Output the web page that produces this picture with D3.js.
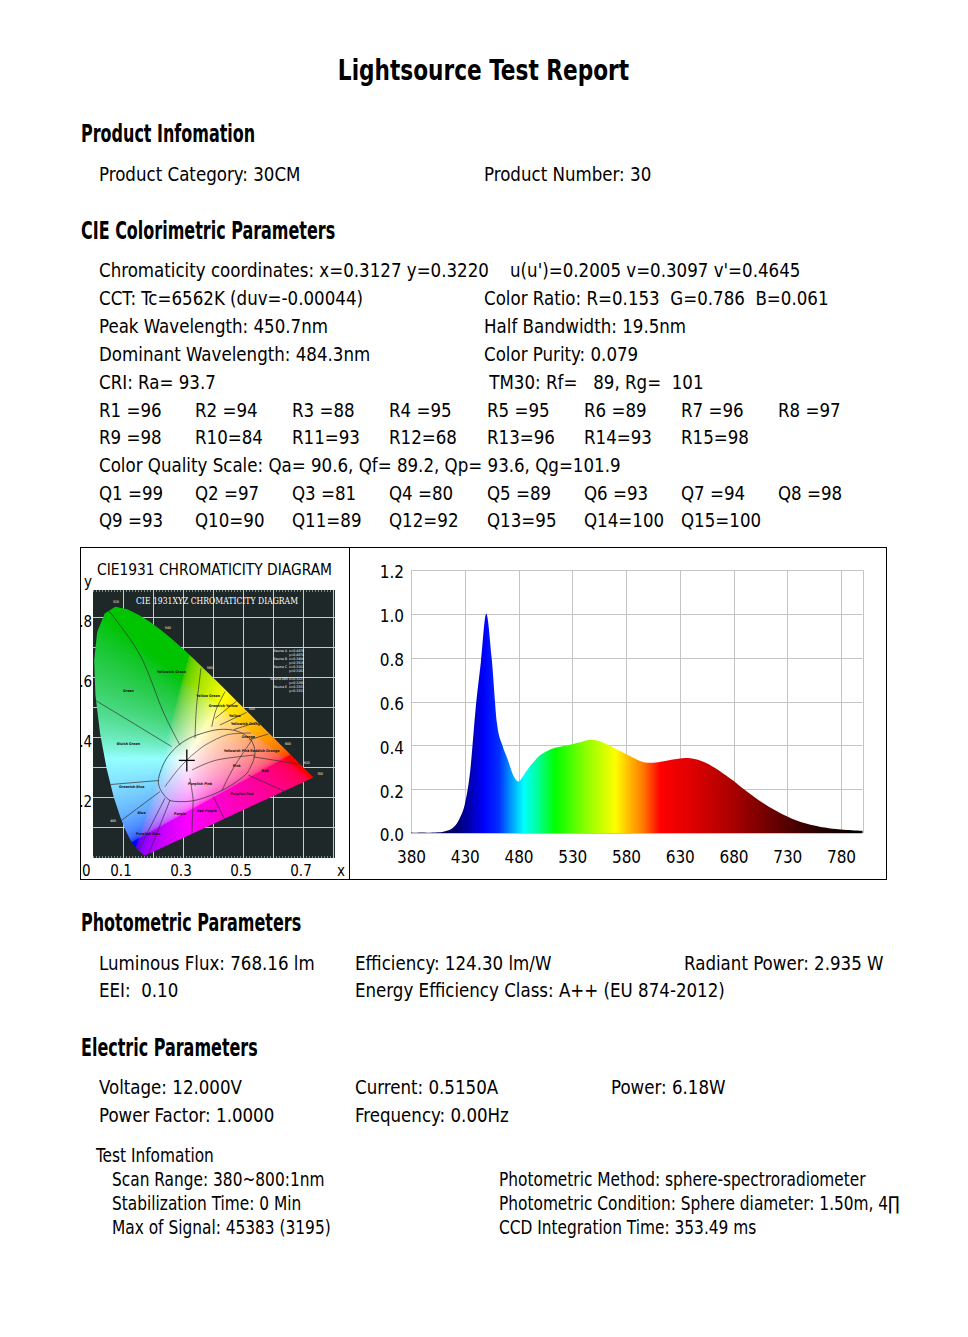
<!DOCTYPE html>
<html lang="en">
<head>
<meta charset="UTF-8">
<title>Lightsource Test Report</title>
<style>
  body { margin: 0; background: #fff; }
  svg { display: block; }
  text { font-family: "DejaVu Sans Condensed", "DejaVu Sans", sans-serif; fill: #000; white-space: pre; }
  .title { font-size: 29px; font-weight: bold; }
  .hdr { font-size: 24px; font-weight: bold; }
  .body { font-size: 19px; }
  .axis text { font-size: 17px; font-family: "DejaVu Sans Condensed", "DejaVu Sans", sans-serif; }
  .cie-lbl { font-size: 15px; }
  .tiny { font-size: 3.6px; font-weight: bold; fill: #111; }
  .tiny-w { font-size: 3.4px; fill: #fff; }
  .img-title { font-family: "DejaVu Serif", "Liberation Serif", serif; font-size: 8.5px; fill: #fff; }
</style>
</head>
<body>
<script src="https://cdn.jsdelivr.net/npm/d3@7"></script>
<script>
// ---------- report text ----------
const reportTitle = "Lightsource Test Report";
const headers = ["Product Infomation", "CIE Colorimetric Parameters", "Photometric Parameters", "Electric Parameters"];
const productInfo = ["Product Category: 30CM", "Product Number: 30"];
const cieFirstRow = ["Chromaticity coordinates: x=0.3127 y=0.3220", "u(u')=0.2005 v=0.3097 v'=0.4645"];
const cieRows = [
  ["CCT: Tc=6562K (duv=-0.00044)", "Color Ratio: R=0.153  G=0.786  B=0.061"],
  ["Peak Wavelength: 450.7nm", "Half Bandwidth: 19.5nm"],
  ["Dominant Wavelength: 484.3nm", "Color Purity: 0.079"],
  ["CRI: Ra= 93.7", " TM30: Rf=   89, Rg=  101"]
];
const rValues = [96, 94, 88, 95, 95, 89, 96, 97, 98, 84, 93, 68, 96, 93, 98];
const cqsLine = "Color Quality Scale: Qa= 90.6, Qf= 89.2, Qp= 93.6, Qg=101.9";
const qValues = [99, 97, 81, 80, 89, 93, 94, 98, 93, 90, 89, 92, 95, 100, 100];
const photoRows = [
  ["Luminous Flux: 768.16 lm", "Efficiency: 124.30 lm/W", "Radiant Power: 2.935 W"],
  ["EEI:  0.10", "Energy Efficiency Class: A++ (EU 874-2012)"]
];
const electricRows = [
  ["Voltage: 12.000V", "Current: 0.5150A", "Power: 6.18W"],
  ["Power Factor: 1.0000", "Frequency: 0.00Hz"]
];
const testTitle = "Test Infomation";
const testLeft = ["Scan Range: 380~800:1nm", "Stabilization Time: 0 Min", "Max of Signal: 45383 (3195)"];
const testRight = ["Photometric Method: sphere-spectroradiometer", "Photometric Condition: Sphere diameter: 1.50m, 4\u220F", "CCD Integration Time: 353.49 ms"];

// ---------- spectrum (relative power vs nm) ----------
const spectrum = [
  [380, 0.002], [385, 0.001], [390, 0.002], [395, 0.001], [400, 0.002], [405, 0.003], [410, 0.006],
  [415, 0.012], [420, 0.028], [425, 0.064], [430, 0.13], [435, 0.28], [440, 0.56], [445, 0.78],
  [450, 1.0], [455, 0.80], [460, 0.50], [465, 0.40], [470, 0.335], [475, 0.265], [480, 0.235],
  [485, 0.265], [490, 0.30], [495, 0.33], [500, 0.355], [505, 0.37], [510, 0.382], [515, 0.39],
  [520, 0.395], [525, 0.40], [530, 0.405], [535, 0.412], [540, 0.418], [545, 0.424], [550, 0.424],
  [555, 0.42], [560, 0.41], [565, 0.398], [570, 0.386], [575, 0.373], [580, 0.36], [585, 0.348],
  [590, 0.335], [595, 0.325], [600, 0.321], [605, 0.321], [610, 0.323], [615, 0.327], [620, 0.332],
  [625, 0.336], [630, 0.34], [635, 0.342], [640, 0.341], [645, 0.336], [650, 0.328], [655, 0.318],
  [660, 0.305], [665, 0.29], [670, 0.273], [675, 0.256], [680, 0.238], [685, 0.218], [690, 0.198],
  [695, 0.18], [700, 0.162], [705, 0.145], [710, 0.129], [715, 0.114], [720, 0.1], [725, 0.087],
  [730, 0.075], [735, 0.064], [740, 0.055], [745, 0.047], [750, 0.04], [755, 0.034], [760, 0.029],
  [765, 0.025], [770, 0.021], [775, 0.018], [780, 0.016], [785, 0.014], [790, 0.013], [795, 0.011],
  [800, 0.01]
];
const spectrumColors = [
  [380, "#12003c"], [420, "#00006a"], [435, "#0000b0"], [448, "#0000ff"], [462, "#0030ff"],
  [472, "#0090ff"], [485, "#00ffff"], [497, "#00ffa0"], [514, "#00ff00"], [540, "#80ff00"],
  [570, "#ffff00"], [582, "#ffc000"], [595, "#ff7f00"], [612, "#ff0000"], [640, "#e00000"],
  [680, "#a80000"], [720, "#640000"], [760, "#260000"], [800, "#000000"]
];
const specXTicks = [380, 430, 480, 530, 580, 630, 680, 730, 780];
const specYTicks = [0, 0.2, 0.4, 0.6, 0.8, 1.0, 1.2];

// ---------- CIE 1931 diagram ----------
const locus = [
  [0.1741, 0.0050], [0.1740, 0.0050], [0.1738, 0.0049], [0.1736, 0.0049], [0.1733, 0.0048],
  [0.1730, 0.0048], [0.1726, 0.0048], [0.1721, 0.0048], [0.1714, 0.0051], [0.1703, 0.0058],
  [0.1689, 0.0069], [0.1669, 0.0086], [0.1644, 0.0109], [0.1611, 0.0138], [0.1566, 0.0177],
  [0.1510, 0.0227], [0.1440, 0.0297], [0.1355, 0.0399], [0.1241, 0.0578], [0.1096, 0.0868],
  [0.0913, 0.1327], [0.0687, 0.2007], [0.0454, 0.2950], [0.0235, 0.4127], [0.0082, 0.5384],
  [0.0039, 0.6548], [0.0139, 0.7502], [0.0389, 0.8120], [0.0743, 0.8338], [0.1142, 0.8262],
  [0.1547, 0.8059], [0.1929, 0.7816], [0.2296, 0.7543], [0.2658, 0.7243], [0.3016, 0.6923],
  [0.3373, 0.6589], [0.3731, 0.6245], [0.4087, 0.5896], [0.4441, 0.5547], [0.4788, 0.5202],
  [0.5125, 0.4866], [0.5448, 0.4544], [0.5752, 0.4242], [0.6029, 0.3965], [0.6270, 0.3725],
  [0.6482, 0.3514], [0.6658, 0.3340], [0.6801, 0.3197], [0.6915, 0.3083], [0.7006, 0.2993],
  [0.7079, 0.2920], [0.7140, 0.2859], [0.7190, 0.2809], [0.7230, 0.2770], [0.7260, 0.2740],
  [0.7300, 0.2700], [0.7320, 0.2680], [0.7334, 0.2666], [0.7347, 0.2653]
];
const planckian = [[0.5267, 0.4133], [0.4476, 0.4074], [0.3805, 0.3768], [0.3451, 0.3516],
  [0.3135, 0.3237], [0.2807, 0.2884], [0.2531, 0.2523], [0.2399, 0.2342]];
const whiteRegion = [[0.218, 0.246], [0.235, 0.31], [0.268, 0.357], [0.31, 0.39], [0.357, 0.41],
  [0.42, 0.425], [0.479, 0.42], [0.525, 0.392], [0.54, 0.346], [0.525, 0.3], [0.501, 0.268],
  [0.43, 0.222], [0.346, 0.19], [0.28, 0.185], [0.246, 0.196]];
const regionLines = [
  [[0.051, 0.823], [0.157, 0.673], [0.234, 0.484], [0.29, 0.373]],
  [[0.007, 0.523], [0.134, 0.446], [0.262, 0.368]],
  [[0.36, 0.63], [0.345, 0.5], [0.34, 0.396]],
  [[0.44, 0.551], [0.41, 0.49], [0.396, 0.434]],
  [[0.479, 0.52], [0.407, 0.462]],
  [[0.512, 0.482], [0.423, 0.44]],
  [[0.548, 0.45], [0.47, 0.425]],
  [[0.584, 0.41], [0.52, 0.39]],
  [[0.534, 0.334], [0.701, 0.307]],
  [[0.518, 0.273], [0.64, 0.218]],
  [[0.401, 0.201], [0.44, 0.123]],
  [[0.334, 0.19], [0.329, 0.062]],
  [[0.257, 0.19], [0.184, 0.007]],
  [[0.24, 0.196], [0.146, 0.012]],
  [[0.223, 0.218], [0.096, 0.123]],
  [[0.04, 0.24], [0.218, 0.255]],
  [[0.323, 0.262], [0.33, 0.22], [0.334, 0.19]],
  [[0.33, 0.29], [0.412, 0.323], [0.54, 0.34]],
  [[0.43, 0.222], [0.47, 0.3], [0.53, 0.39]]
];
const regionNames = [
  ["Green", 0.118, 0.551], ["Yellowish Green", 0.262, 0.612], ["Yellow Green", 0.384, 0.534],
  ["Greenish Yellow", 0.434, 0.501], ["Yellow", 0.473, 0.468], ["Yellowish Orange", 0.512, 0.44],
  ["Orange", 0.518, 0.398], ["Reddish Orange", 0.573, 0.351], ["Red", 0.573, 0.284],
  ["Purplish Red", 0.496, 0.207], ["Red Purple", 0.379, 0.151], ["Purple", 0.29, 0.14],
  ["Purplish Blue", 0.184, 0.073], ["Blue", 0.162, 0.145], ["Greenish Blue", 0.129, 0.229],
  ["Bluish Green", 0.118, 0.373], ["Yellowish Pink", 0.479, 0.351], ["Pink", 0.479, 0.301],
  ["Purplish Pink", 0.357, 0.24]
];
const locusMarks = [["520", 0.077, 0.847], ["540", 0.25, 0.76], ["560", 0.39, 0.627], ["580", 0.53, 0.49],
  ["600", 0.65, 0.373], ["620", 0.713, 0.31], ["700", 0.757, 0.273], ["480", 0.067, 0.117]];
const illuminants = ["Source A  x=0.4476", "y=0.4074", "Source B  x=0.3484", "y=0.3516",
  "Source C  x=0.3101", "y=0.3162", "", "Source D65 x=0.3127", "y=0.3290", "Source E  x=0.3333", "y=0.3333"];
const testPoint = [0.3127, 0.3220];
const cieTicksY = [0.8, 0.6, 0.4, 0.2];
const cieTicksX = [0.1, 0.3, 0.5, 0.7];

// ---------- page ----------
const W = 968, H = 1337;
const svg = d3.select("body").append("svg").attr("width", W).attr("height", H);
const defs = svg.append("defs");

function put(g, str, x, y, cls, factor) {
  const t = g.append("text").attr("x", x).attr("y", y).attr("class", cls).text(str);
  if (factor) {
    t.attr("textLength", t.node().getComputedTextLength() * factor).attr("lengthAdjust", "spacingAndGlyphs");
  }
  return t;
}

const page = svg.append("g");
const BF = 0.975;  // body text fit
const HF = 0.74;   // header fit
put(page, reportTitle, 483.5, 80, "title", 0.83).attr("text-anchor", "middle");
[142, 239, 931, 1056].forEach((y, i) => put(page, headers[i], 81, y, "hdr", HF));

put(page, productInfo[0], 99, 181, "body", BF);
put(page, productInfo[1], 484, 181, "body", BF);

const rowY = [277, 305, 333, 361, 389, 417, 444, 472, 500, 527];
put(page, cieFirstRow[0], 99, rowY[0], "body", BF);
put(page, cieFirstRow[1], 510, rowY[0], "body", BF);
cieRows.forEach((r, i) => {
  put(page, r[0], 99, rowY[i + 1], "body", BF);
  put(page, r[1], 484, rowY[i + 1], "body", BF);
});
const gridCols = [99, 195, 292, 389, 487, 584, 681, 778];
const idxLabel = (p, n, v) => (n < 10 ? p + n + " =" : p + n + "=") + v;
rValues.forEach((v, i) => put(page, idxLabel("R", i + 1, v), gridCols[i % 8], rowY[5 + Math.floor(i / 8)], "body", BF));
put(page, cqsLine, 99, rowY[7], "body", BF);
qValues.forEach((v, i) => put(page, idxLabel("Q", i + 1, v), gridCols[i % 8], rowY[8 + Math.floor(i / 8)], "body", BF));

const photoCols = [99, 355, 684];
photoRows.forEach((r, i) => r.forEach((s, j) => put(page, s, photoCols[j], 970 + i * 27, "body", BF)));
const elecCols = [99, 355, 611];
electricRows.forEach((r, i) => r.forEach((s, j) => put(page, s, elecCols[j], 1094 + i * 28, "body", BF)));

put(page, testTitle, 96, 1162, "body", 0.9);
testLeft.forEach((s, i) => put(page, s, 112, 1186 + i * 24, "body", 0.9));
testRight.forEach((s, i) => put(page, s, 499, 1186 + i * 24, "body", 0.9));

// ---------- chart frame ----------
const frame = { x0: 80, x1: 886, y0: 547, y1: 879, split: 349 };
svg.append("rect").attr("x", frame.x0 + 0.5).attr("y", frame.y0 + 0.5)
  .attr("width", frame.x1 - frame.x0).attr("height", frame.y1 - frame.y0)
  .attr("fill", "none").attr("stroke", "#000");
svg.append("line").attr("x1", frame.split + 0.5).attr("x2", frame.split + 0.5)
  .attr("y1", frame.y0).attr("y2", frame.y1).attr("stroke", "#000");

// ---------- spectrum panel ----------
const sx = d3.scaleLinear().domain([380, 800]).range([411, 862.5]);
const sy = d3.scaleLinear().domain([0, 1.2]).range([833, 570]);
const sp = svg.append("g");
const grad = defs.append("linearGradient").attr("id", "specGrad")
  .attr("gradientUnits", "userSpaceOnUse").attr("x1", sx(380)).attr("x2", sx(800)).attr("y1", 0).attr("y2", 0);
grad.selectAll("stop").data(spectrumColors).join("stop")
  .attr("offset", d => (d[0] - 380) / 420).attr("stop-color", d => d[1]);

sp.append("g").selectAll("line").data(specXTicks.concat([800])).join("line")
  .attr("x1", d => Math.round(sx(d)) + 0.5).attr("x2", d => Math.round(sx(d)) + 0.5)
  .attr("y1", sy(1.2)).attr("y2", sy(0)).attr("stroke", "#c4c4c4");
sp.append("g").selectAll("line").data(specYTicks).join("line")
  .attr("x1", sx(380)).attr("x2", sx(800))
  .attr("y1", d => Math.round(sy(d)) + 0.5).attr("y2", d => Math.round(sy(d)) + 0.5).attr("stroke", "#c4c4c4");

const area = d3.area().x(d => sx(d[0])).y0(sy(0)).y1(d => sy(d[1])).curve(d3.curveMonotoneX);
sp.append("path").datum(spectrum).attr("d", area).attr("fill", "url(#specGrad)");

const ay = sp.append("g").attr("class", "axis").attr("transform", `translate(${sx(380)},2.5)`)
  .call(d3.axisLeft(sy).tickValues(specYTicks).tickFormat(d3.format(".1f")).tickSize(0).tickPadding(7));
const ax = sp.append("g").attr("class", "axis").attr("transform", `translate(0,${sy(0)})`)
  .call(d3.axisBottom(sx).tickValues(specXTicks).tickSize(0).tickPadding(18));
[ay, ax].forEach(a => { a.select(".domain").remove(); a.selectAll("text").style("fill", "#000"); });

// ---------- CIE panel ----------
const cx = d3.scaleLinear().domain([0, 1]).range([93, 393]);
const cy = d3.scaleLinear().domain([0, 1]).range([857, 557]);
const img = { x0: 93, x1: 335, y0: 590, y1: 858 };
const cie = svg.append("g");
defs.append("clipPath").attr("id", "imgClip").append("rect")
  .attr("x", img.x0).attr("y", img.y0).attr("width", img.x1 - img.x0).attr("height", img.y1 - img.y0);
const locusPath = d3.line().x(d => cx(d[0])).y(d => cy(d[1]))(locus) + "Z";
defs.append("clipPath").attr("id", "locusClip").append("path").attr("d", locusPath);

const cg = cie.append("g").attr("clip-path", "url(#imgClip)");
cg.append("rect").attr("x", img.x0).attr("y", img.y0).attr("width", img.x1 - img.x0)
  .attr("height", img.y1 - img.y0).attr("fill", "#1e2828");
const gridVals = [0.1, 0.2, 0.3, 0.4, 0.5, 0.6, 0.7, 0.8];
cg.append("g").selectAll("line").data(gridVals).join("line")
  .attr("x1", d => Math.round(cx(d)) + 0.5).attr("x2", d => Math.round(cx(d)) + 0.5)
  .attr("y1", img.y0).attr("y2", img.y1).attr("stroke", "#c3cbcb").attr("stroke-width", 1);
cg.append("g").selectAll("line").data(gridVals).join("line")
  .attr("y1", d => Math.round(cy(d)) + 0.5).attr("y2", d => Math.round(cy(d)) + 0.5)
  .attr("x1", img.x0).attr("x2", img.x1).attr("stroke", "#c3cbcb").attr("stroke-width", 1);
[img.y0 + 1, img.y1 - 1].forEach(y => cg.append("line").attr("x1", img.x0).attr("x2", img.x1)
  .attr("y1", y).attr("y2", y).attr("stroke", "#dfe5e5").attr("stroke-dasharray", "1,2"));

// chromaticity colour fill rendered into a canvas, then clipped to the spectral locus
const res = 2, cw = (img.x1 - img.x0) * res, ch = (img.y1 - img.y0) * res;
const canvas = document.createElement("canvas");
canvas.width = cw; canvas.height = ch;
const ctx = canvas.getContext("2d");
const id = ctx.createImageData(cw, ch);
const enc = c => 255 * (c <= 0.0031308 ? 12.92 * c : 1.055 * Math.pow(c, 1 / 2.4) - 0.055);
for (let j = 0; j < ch; j++) {
  const y = Math.max(cy.invert(img.y0 + (j + 0.5) / res), 0.002);
  for (let i = 0; i < cw; i++) {
    const x = cx.invert(img.x0 + (i + 0.5) / res);
    const X = x / y, Z = (1 - x - y) / y;
    let r = Math.max(3.2406 * X - 1.5372 - 0.4986 * Z, 0);
    let g = Math.max(-0.9689 * X + 1.8758 + 0.0415 * Z, 0);
    let b = Math.max(0.0557 * X - 0.2040 + 1.0570 * Z, 0);
    const m = Math.max(r, g, b) || 1;
    // lift toward white so the neutral centre spreads out, pull the green lobe away from cyan
    r = Math.pow(r / m, 0.6); g = Math.pow(g / m, 0.6); b = Math.pow(b / m, 0.6);
    b = Math.pow(b, 1 + 1.2 * Math.max(0, g - r));
    r = Math.max(r, 0.3 * Math.min(g, b));
    const gd = Math.max(0, g - Math.max(r, b));
    const f = 1 - 0.45 * gd;
    const k = (j * cw + i) * 4;
    id.data[k] = enc(r * f); id.data[k + 1] = enc(g * f); id.data[k + 2] = enc(b * f); id.data[k + 3] = 255;
  }
}
ctx.putImageData(id, 0, 0);
const lg = cg.append("g").attr("clip-path", "url(#locusClip)");
lg.append("image").attr("href", canvas.toDataURL()).attr("x", img.x0).attr("y", img.y0)
  .attr("width", img.x1 - img.x0).attr("height", img.y1 - img.y0).attr("preserveAspectRatio", "none");

const pl = d3.line().x(d => cx(d[0])).y(d => cy(d[1]));
lg.append("path").attr("d", d3.line().x(d => cx(d[0])).y(d => cy(d[1])).curve(d3.curveCardinalClosed)(whiteRegion))
  .attr("fill", "none").attr("stroke", "#3a3a3a").attr("stroke-width", 0.8);
lg.append("g").selectAll("path").data(regionLines).join("path")
  .attr("d", d => pl.curve(d3.curveCardinal)(d)).attr("fill", "none").attr("stroke", "#303030").attr("stroke-width", 0.7);
lg.append("path").attr("d", pl.curve(d3.curveCardinal)(planckian)).attr("fill", "none")
  .attr("stroke", "#444").attr("stroke-width", 0.7);
lg.append("g").selectAll("text").data(regionNames).join("text").attr("class", "tiny")
  .attr("x", d => cx(d[1])).attr("y", d => cy(d[2])).attr("text-anchor", "middle").text(d => d[0]);

cg.append("g").selectAll("text").data(locusMarks).join("text").attr("class", "tiny-w")
  .attr("x", d => cx(d[1])).attr("y", d => cy(d[2])).attr("text-anchor", "middle").text(d => d[0]);
cg.append("g").selectAll("text").data(illuminants).join("text").attr("class", "tiny-w")
  .attr("x", 304).attr("y", (d, i) => 652 + i * 4).attr("text-anchor", "end").text(d => d);
cg.append("text").attr("class", "img-title").attr("x", (img.x0 + img.x1) / 2 + 3).attr("y", 604)
  .attr("text-anchor", "middle").attr("textLength", 162).attr("lengthAdjust", "spacingAndGlyphs")
  .text("CIE 1931XYZ CHROMATICITY DIAGRAM");

// test point cross
const tpx = cx(testPoint[0]), tpy = cy(testPoint[1]);
cg.append("line").attr("x1", tpx - 8).attr("x2", tpx + 8).attr("y1", tpy).attr("y2", tpy).attr("stroke", "#000").attr("stroke-width", 1.3);
cg.append("line").attr("x1", tpx).attr("x2", tpx).attr("y1", tpy - 11).attr("y2", tpy + 11).attr("stroke", "#000").attr("stroke-width", 1.3);

// CIE panel labels
put(cie, "CIE1931 CHROMATICITY DIAGRAM", 97, 575, "cie-lbl").attr("textLength", 235).attr("lengthAdjust", "spacingAndGlyphs");
put(cie, "y", 84, 587, "cie-lbl");
cie.append("g").selectAll("text").data(cieTicksY).join("text").attr("class", "cie-lbl")
  .attr("x", 92).attr("y", d => cy(d) + 10).attr("text-anchor", "end").text(d => String(d).replace("0.", "."));
cie.append("g").selectAll("text").data(cieTicksX).join("text").attr("class", "cie-lbl")
  .attr("x", d => cx(d) - 2).attr("y", 876).attr("text-anchor", "middle").text(d => d);
put(cie, "0", 82, 876, "cie-lbl");
put(cie, "x", 337, 876, "cie-lbl");
</script>
</body>
</html>
